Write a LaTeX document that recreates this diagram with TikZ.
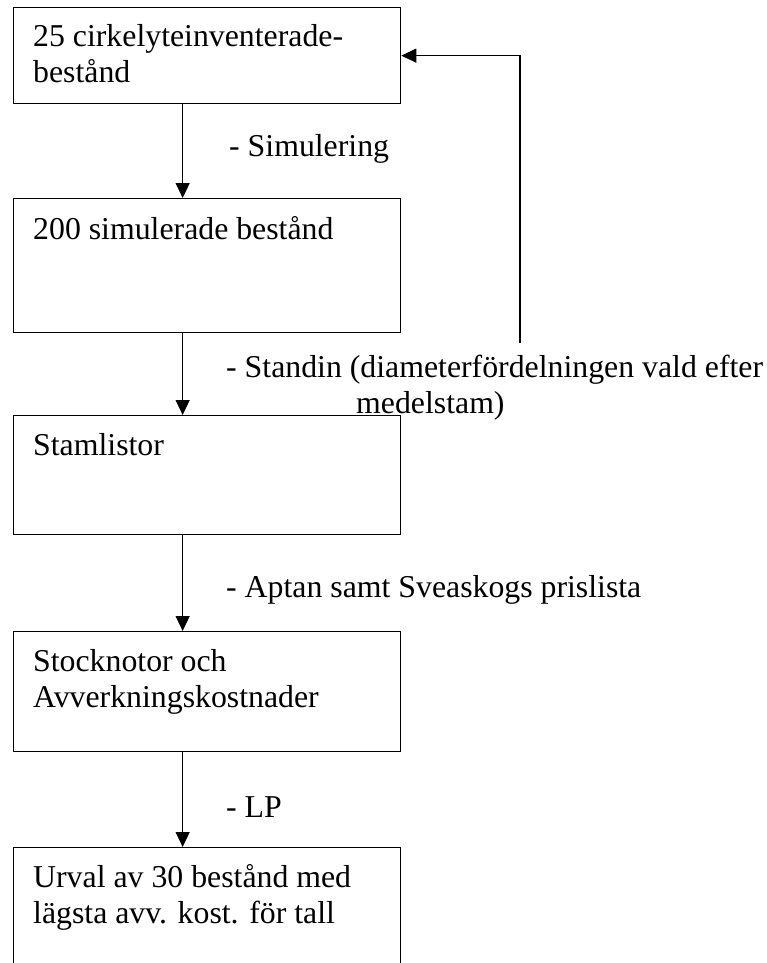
\documentclass[tikz,border=0pt]{standalone}
\usepackage{fontspec}
\setmainfont{Liberation Serif}
\usetikzlibrary{arrows.meta,positioning}

\begin{document}
\begin{tikzpicture}[x=1pt, y=-1pt,
    box/.style={draw, line width=1.3pt, minimum width=387pt, inner sep=0pt, anchor=north west},
    boxtext/.style={anchor=base west, align=left, inner sep=0pt, font=\fontsize{31.8}{36}\selectfont},
    steplabel/.style={anchor=base west, align=left, inner sep=0pt, font=\fontsize{31.8}{36}\selectfont},
    flow/.style={-{Triangle[width=14pt,length=15pt]}, line width=1.1pt}]

    \useasboundingbox (0,0) rectangle (767,963);
    \clip (0,0) rectangle (767,963);

    % Rutor
    \node[box, minimum height=96pt]  (inv)   at (13,7)   {};
    \node[box, minimum height=134pt] (sim)   at (13,198) {};
    \node[box, minimum height=119pt] (stam)  at (13,415) {};
    \node[box, minimum height=120pt] (stock) at (13,631) {};
    \node[box, minimum height=150pt] (urval) at (13,847) {};

    % Texter i rutorna (base = sista raden)
    \node[boxtext] (invtext)   at ([xshift=20pt,yshift=-76pt]inv.north west)   {25 cirkelyteinventerade-\\bestånd};
    \node[boxtext] (simtext)   at ([xshift=20pt,yshift=-41pt]sim.north west)   {200 simulerade bestånd};
    \node[boxtext] (stamtext)  at ([xshift=20pt,yshift=-40pt]stam.north west)  {Stamlistor};
    \node[boxtext] (stocktext) at ([xshift=20pt,yshift=-76pt]stock.north west) {Stocknotor och\\Avverkningskostnader};
    \node[boxtext] (urvaltext) at ([xshift=20pt,yshift=-76pt]urval.north west) {Urval av 30 bestånd med\\lägsta avv. kost. för tall};

    % Pilar
    \draw[flow] ([xshift=-24.5pt]inv.south)   -- ([xshift=-24.5pt]sim.north);
    \draw[flow] ([xshift=-24.5pt]sim.south)   -- ([xshift=-24.5pt]stam.north);
    \draw[flow] ([xshift=-24.5pt]stam.south)  -- ([xshift=-24.5pt]stock.north);
    \draw[flow] ([xshift=-24.5pt]stock.south) -- ([xshift=-24.5pt]urval.north);

    % Återkoppling
    \coordinate (back) at (520,343);
    \draw[flow] (back) |- (inv.east);

    % Steg
    \node[steplabel] (simlab)   at (229,156) {- Simulering};
    \node[steplabel] (standlab) at (226,413) {- Standin (diameterfördelningen vald efter\\\hspace*{130pt}medelstam)};
    \node[steplabel] (aptlab)   at (226,597) {- Aptan samt Sveaskogs prislista};
    \node[steplabel] (lplab)    at (226,817) {- LP};
\end{tikzpicture}
\end{document}
